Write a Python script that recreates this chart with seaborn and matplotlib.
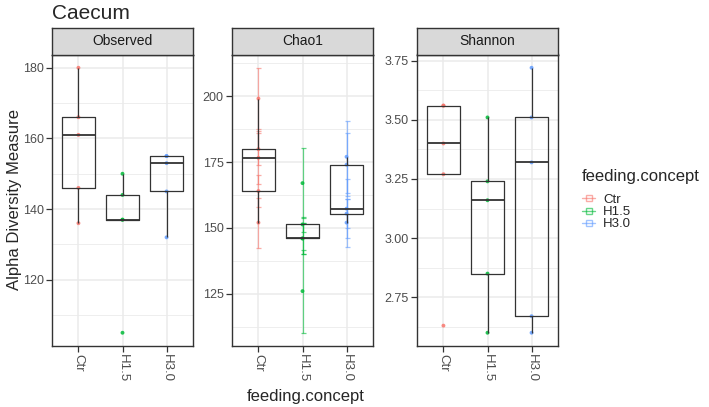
import numpy as np
import pandas as pd
import matplotlib
matplotlib.use("Agg")
import matplotlib.pyplot as plt
from matplotlib.lines import Line2D
import seaborn as sns

# ---------------- data ----------------
groups = ["Ctr", "H1.5", "H3.0"]
colors = ["#F8766D", "#00BA38", "#619CFF"]

observed_ctr = [180, 166, 161, 146, 136]
observed_h15 = [150, 144, 137, 137, 105]
observed_h30 = [155, 155, 153, 145, 132]

chao1_ctr = [199.1, 179.9, 176.6, 164.0, 152.0]
chao1_h15 = [167.0, 151.3, 146.0, 146.0, 126.0]
chao1_h30 = [177.0, 174.0, 157.3, 155.4, 152.0]
chao1_ctr_se = [11.7, 6.1, 10.0, 6.0, 9.5]
chao1_h15_se = [13.2, 3.0, 6.0, 6.0, 15.8]
chao1_h30_se = [13.6, 12.0, 11.2, 5.4, 9.1]

shannon_ctr = [3.56, 3.56, 3.40, 3.27, 2.63]
shannon_h15 = [3.51, 3.24, 3.16, 2.85, 2.60]
shannon_h30 = [3.72, 3.51, 3.32, 2.67, 2.60]

observed_ticks = [120, 140, 160, 180]
observed_minor = [110, 130, 150, 170]
chao1_ticks = [125, 150, 175, 200]
chao1_minor = [112.5, 137.5, 162.5, 187.5, 212.5]
shannon_ticks = [2.75, 3.00, 3.25, 3.50, 3.75]
shannon_minor = [2.625, 2.875, 3.125, 3.375, 3.625]


def long_frame(a, b, c, sa=None, sb=None, sc=None):
    rows = []
    for g, vals, se in zip(groups, [a, b, c], [sa, sb, sc]):
        for i, v in enumerate(vals):
            rows.append({"feeding.concept": g, "value": v,
                         "se": 0.0 if se is None else se[i]})
    return pd.DataFrame(rows)


panels = [
    ("Observed", long_frame(observed_ctr, observed_h15, observed_h30),
     observed_ticks, observed_minor, "{:.0f}", False),
    ("Chao1", long_frame(chao1_ctr, chao1_h15, chao1_h30,
                         chao1_ctr_se, chao1_h15_se, chao1_h30_se),
     chao1_ticks, chao1_minor, "{:.0f}", True),
    ("Shannon", long_frame(shannon_ctr, shannon_h15, shannon_h30),
     shannon_ticks, shannon_minor, "{:.2f}", False),
]

# ---------------- figure ----------------
sns.set_style("white")
plt.rcParams["font.family"] = ["Liberation Sans", "DejaVu Sans"]

W, H = 709, 407
fig = plt.figure(figsize=(W / 100, H / 100), dpi=100)

lefts = [52, 232, 417]
pw = 141
top, bottom, strip_top = 54.5, 346, 28
palette = dict(zip(groups, colors))

for left, (name, df, ticks, minor, fmt, has_se) in zip(lefts, panels):
    ax = fig.add_axes([left / W, 1 - bottom / H, pw / W, (bottom - top) / H])
    ax.set_facecolor("white")

    lo = (df["value"] - df["se"]).min()
    hi = (df["value"] + df["se"]).max()
    pad = (hi - lo) * 0.05

    # grid
    for m in minor:
        ax.axhline(m, color="#EBEBEB", lw=0.6, zorder=0)
    for t in ticks:
        ax.axhline(t, color="#EBEBEB", lw=1.1, zorder=0)
    for i in range(len(groups)):
        ax.axvline(i, color="#EBEBEB", lw=1.1, zorder=0)

    sns.stripplot(data=df, x="feeding.concept", y="value", hue="feeding.concept",
                  order=groups, hue_order=groups, palette=palette, jitter=False,
                  size=2.8, alpha=0.85, linewidth=0, legend=False, ax=ax, zorder=3)

    if has_se:
        for i, g in enumerate(groups):
            sub = df[df["feeding.concept"] == g]
            ax.errorbar(np.full(len(sub), i), sub["value"], yerr=sub["se"],
                        fmt="none", ecolor=colors[i], elinewidth=0.9,
                        capsize=1.8, capthick=0.9, alpha=0.6, zorder=2)

    sns.boxplot(data=df, x="feeding.concept", y="value", order=groups,
                fill=False, color="#333333", width=0.75, whis=1.5,
                showfliers=False, showcaps=False, linewidth=0.9,
                medianprops={"linewidth": 1.3, "color": "#333333"}, ax=ax, zorder=4)

    ax.set_xlim(-0.6, 2.6)
    ax.set_ylim(lo - pad, hi + pad)
    ax.set_yticks(ticks)
    ax.set_yticklabels([fmt.format(t) for t in ticks])
    ax.set_xticks(range(len(groups)))
    ax.set_xticklabels(groups, rotation=-90, va="top", ha="center")
    ax.set_xlabel("")
    ax.set_ylabel("")
    ax.tick_params(axis="both", direction="out", length=4, width=0.9,
                   color="#333333", labelcolor="#4D4D4D", labelsize=9, pad=2,
                   left=True, bottom=True)
    ax.tick_params(axis="x", labelsize=9.5)
    for sp in ax.spines.values():
        sp.set_visible(True)
        sp.set_color("#333333")
        sp.set_linewidth(1.0)

    # facet strip
    sax = fig.add_axes([left / W, 1 - top / H, pw / W, (top - strip_top) / H])
    sax.set_facecolor("#D9D9D9")
    sax.set_xticks([])
    sax.set_yticks([])
    for sp in sax.spines.values():
        sp.set_visible(True)
        sp.set_color("#333333")
        sp.set_linewidth(1.0)
    sax.text(0.5, 0.5, name, ha="center", va="center", fontsize=10,
             color="#1A1A1A", transform=sax.transAxes)

fig.text(52 / W, 1 - 19 / H, "Caecum", fontsize=15, ha="left", va="baseline")
fig.text(305.5 / W, 1 - 396 / H, "feeding.concept", fontsize=12,
         ha="center", va="center")
fig.text(15 / W, 1 - 200 / H, "Alpha Diversity Measure", fontsize=12,
         ha="center", va="center", rotation=90)

handles = [Line2D([], [], color=c, marker="s", markerfacecolor="none",
                  markersize=5, lw=1.0, alpha=0.6) for c in colors]
leg = fig.legend(handles, groups, title="feeding.concept", loc="upper left",
                 bbox_to_anchor=(582 / W, 1 - 169 / H), frameon=False,
                 fontsize=9.5, title_fontsize=12, handlelength=1.0,
                 handletextpad=0.6, labelspacing=0.0, borderaxespad=0,
                 borderpad=0)
leg._legend_box.align = "left"
leg._legend_box.sep = 7

fig.savefig("out.png", dpi=100)
